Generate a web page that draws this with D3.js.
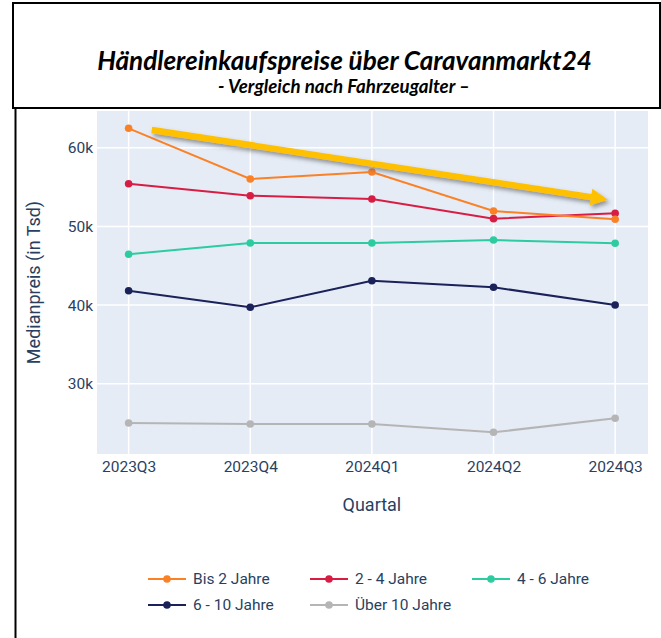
<!DOCTYPE html>
<html>
<head>
<meta charset="utf-8">
<script src="https://cdn.jsdelivr.net/npm/d3@7"></script>
<style>
  body { margin: 0; background: #fff; }
  svg { display: block; }
</style>
</head>
<body>
<svg width="661" height="638"></svg>
<script>
// quarters on the x axis
const quarters = ['2023Q3', '2023Q4', '2024Q1', '2024Q2', '2024Q3'];

// median prices per age group (EUR)
const bis2 = [62470, 56020, 56910, 51950, 50900];
const von2bis4 = [55420, 53900, 53480, 50980, 51660];
const von4bis6 = [46450, 47890, 47890, 48270, 47850];
const von6bis10 = [41820, 39710, 43090, 42260, 40000];
const ueber10 = [25010, 24880, 24880, 23820, 25600];

const seriesNames = ['Bis 2 Jahre', '2 - 4 Jahre', '4 - 6 Jahre', '6 - 10 Jahre', 'Über 10 Jahre'];
const seriesColors = ['#fb8127', '#d81d45', '#2dcca0', '#1b2159', '#b5b5b5'];
const yTicks = [30000, 40000, 50000, 60000];

// trend arrow, in data terms (quarter index, price)
const arrowFrom = [0.19, 62250];
const arrowTo = [3.94, 53400];

const allSeries = [bis2, von2bis4, von4bis6, von6bis10, ueber10];

const svg = d3.select('svg');
const font = 'Roboto, sans-serif';
const txt = '#2a3f5f';

const plot = { left: 97, right: 648, top: 111, bottom: 454 };

const x = d3.scaleLinear().domain([-0.26, 4.27]).range([plot.left, plot.right]);
const y = d3.scaleLinear().domain([21060, 64670]).range([plot.bottom, plot.top]);

// frame: title box + left line
svg.append('line')
    .attr('x1', 15.5).attr('x2', 15.5)
    .attr('y1', 108).attr('y2', 638)
    .style('stroke', '#000')
    .style('stroke-width', 2);

svg.append('rect')
    .attr('x', 13).attr('y', 3)
    .attr('width', 647).attr('height', 105)
    .style('fill', '#fff')
    .style('stroke', '#000')
    .style('stroke-width', 2);

const title = svg.append('text')
    .attr('x', 344.5).attr('y', 70)
    .attr('text-anchor', 'middle')
    .style('font-family', 'Lato, sans-serif')
    .style('font-weight', 'bold')
    .style('font-style', 'italic')
    .style('font-size', '20px')
    .style('fill', '#000')
    .text('Händlereinkaufspreise über Caravanmarkt24');
let w = title.node().getComputedTextLength();
title.style('font-size', (20 * 495 / w) + 'px');

const sub = svg.append('text')
    .attr('x', 344).attr('y', 93)
    .attr('text-anchor', 'middle')
    .style('font-family', 'Lato, sans-serif')
    .style('font-weight', 'bold')
    .style('font-style', 'italic')
    .style('font-size', '14px')
    .style('fill', '#000')
    .text('- Vergleich nach Fahrzeugalter –');
w = sub.node().getComputedTextLength();
sub.style('font-size', (14 * 252 / w) + 'px');

// plot background
svg.append('rect')
    .attr('x', plot.left).attr('y', plot.top)
    .attr('width', plot.right - plot.left)
    .attr('height', plot.bottom - plot.top)
    .style('fill', '#e5ecf6');

// grid
svg.selectAll('.ygrid')
    .data(yTicks)
    .enter()
    .append('line')
    .attr('x1', plot.left).attr('x2', plot.right)
    .attr('y1', d => y(d)).attr('y2', d => y(d))
    .style('stroke', '#fff')
    .style('stroke-width', 1.5);

svg.selectAll('.xgrid')
    .data(quarters)
    .enter()
    .append('line')
    .attr('x1', (d, i) => x(i)).attr('x2', (d, i) => x(i))
    .attr('y1', plot.top).attr('y2', plot.bottom)
    .style('stroke', '#fff')
    .style('stroke-width', 1.5);

// axes
const yAxis = svg.append('g')
    .attr('transform', `translate(${plot.left},0)`)
    .call(d3.axisLeft(y).tickValues(yTicks).tickFormat(d3.format('~s')).tickSize(0).tickPadding(4));
yAxis.select('.domain').remove();
yAxis.selectAll('text')
    .style('font-family', font).style('font-size', '15.5px').style('fill', txt);

const xAxis = svg.append('g')
    .attr('transform', `translate(0,${plot.bottom})`)
    .call(d3.axisBottom(x).tickValues(d3.range(quarters.length)).tickFormat(i => quarters[i]).tickSize(0).tickPadding(7));
xAxis.select('.domain').remove();
xAxis.selectAll('text')
    .style('font-family', font).style('font-size', '15.5px').style('fill', txt);

svg.append('text')
    .attr('transform', `translate(40,${(plot.top + plot.bottom) / 2}) rotate(-90)`)
    .attr('text-anchor', 'middle')
    .style('font-family', font).style('font-size', '18px').style('fill', txt)
    .text('Medianpreis (in Tsd)');

svg.append('text')
    .attr('x', x(2)).attr('y', 511)
    .attr('text-anchor', 'middle')
    .style('font-family', font).style('font-size', '18px').style('fill', txt)
    .text('Quartal');

// lines + markers (draw last series first so "Bis 2 Jahre" is on top)
const line = d3.line().x((d, i) => x(i)).y(d => y(d));
const order = [4, 3, 2, 1, 0];
order.forEach(k => {
    const g = svg.append('g');
    g.append('path')
        .datum(allSeries[k])
        .attr('d', line)
        .style('fill', 'none')
        .style('stroke', seriesColors[k])
        .style('stroke-width', 2);
    g.selectAll('circle')
        .data(allSeries[k])
        .enter()
        .append('circle')
        .attr('cx', (d, i) => x(i))
        .attr('cy', d => y(d))
        .attr('r', 3.8)
        .style('fill', seriesColors[k]);
});

// trend arrow with shadow
const defs = svg.append('defs');
const f = defs.append('filter').attr('id', 'shadow')
    .attr('x', '-10%').attr('y', '-50%').attr('width', '120%').attr('height', '250%');
f.append('feDropShadow')
    .attr('dx', 2).attr('dy', 3).attr('stdDeviation', 2.2)
    .attr('flood-color', '#555').attr('flood-opacity', 0.6);

const ax1 = x(arrowFrom[0]), ay1 = y(arrowFrom[1]);
const ax2 = x(arrowTo[0]), ay2 = y(arrowTo[1]);
const ang = Math.atan2(ay2 - ay1, ax2 - ax1);
const headLen = 17, headHalf = 8.5, shaft = 3.2;
const ux = Math.cos(ang), uy = Math.sin(ang);
const px = -uy, py = ux;
const bx = ax2 - ux * headLen, by = ay2 - uy * headLen;
const pts = [
    [ax1 + px * shaft, ay1 + py * shaft],
    [bx + px * shaft, by + py * shaft],
    [bx + px * headHalf, by + py * headHalf],
    [ax2, ay2],
    [bx - px * headHalf, by - py * headHalf],
    [bx - px * shaft, by - py * shaft],
    [ax1 - px * shaft, ay1 - py * shaft]
];
svg.append('path')
    .attr('d', d3.line()(pts) + 'Z')
    .style('fill', '#ffc000')
    .attr('filter', 'url(#shadow)');

// legend
const legendPos = [[148, 579], [310, 579], [472, 579], [148, 605], [310, 605]];
seriesNames.forEach((name, k) => {
    const [lx, ly] = legendPos[k];
    const g = svg.append('g').attr('transform', `translate(${lx},${ly})`);
    g.append('line')
        .attr('x1', 0).attr('x2', 38)
        .attr('y1', 0).attr('y2', 0)
        .style('stroke', seriesColors[k])
        .style('stroke-width', 2);
    g.append('circle')
        .attr('cx', 19).attr('cy', 0).attr('r', 3.8)
        .style('fill', seriesColors[k]);
    g.append('text')
        .attr('x', 45).attr('y', 0)
        .attr('dy', '0.35em')
        .style('font-family', font).style('font-size', '15.5px').style('fill', txt)
        .text(name);
});
</script>
</body>
</html>
